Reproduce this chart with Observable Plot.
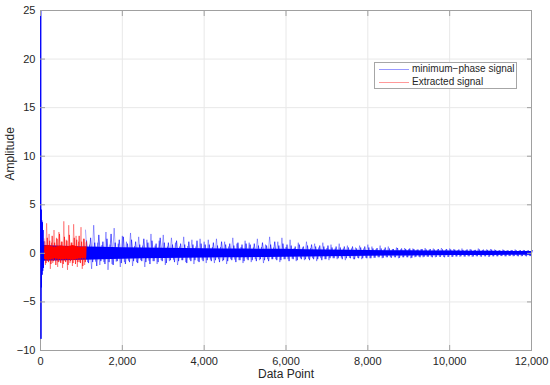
<!DOCTYPE html>
<html><head><meta charset="utf-8">
<script src="https://cdn.jsdelivr.net/npm/d3@7"></script>
<script src="https://cdn.jsdelivr.net/npm/@observablehq/plot@0.6"></script>
<style>
body{margin:0;background:#fff;font-family:"Liberation Sans",Arial,sans-serif;}
#wrap{position:relative;width:550px;height:385px;}
#legend{position:absolute;left:374px;top:62px;width:143px;height:27px;border:1px solid #a6a6a6;background:#fff;box-sizing:border-box;font-size:10px;color:#262626;}
#legend .ln{position:absolute;left:4px;width:30px;height:0;border-top:1px solid;}
#legend .tx{position:absolute;left:37px;line-height:12px;white-space:nowrap;}
</style></head>
<body>
<div id="wrap">
<div id="chart"></div>
<div id="legend">
  <div class="ln" style="top:6px;border-color:rgba(0,0,255,0.4)"></div><div class="tx" style="top:0px">minimum−phase signal</div>
  <div class="ln" style="top:19px;border-color:rgba(255,0,0,0.4)"></div><div class="tx" style="top:13px">Extracted signal</div>
</div>
</div>
<script>
// Axis ticks
const xTicks = [0, 2000, 4000, 6000, 8000, 10000, 12000];
const yTicks = [-10, -5, 0, 5, 10, 15, 20, 25];

// Blue (minimum-phase signal): initial impulse
const headX = [0, 6, 12, 18, 24, 30, 38, 46, 54, 62, 70, 80];
const headY = [0, 25, -8.8, 4.5, -3.5, 3.4, -2.2, 3.2, -1.8, 2.4, -1.5, 1.2];

// Blue dense core envelope
const coreX = [60, 1100, 1500, 2000, 2500, 3000, 3500, 4000, 4500, 5000, 5500, 6000, 6500, 7000, 7500, 8000, 8500, 9000, 9500, 10000, 10500, 11000, 11500, 12000];
const blueCoreHi = [0.8, 0.65, 0.62, 0.58, 0.55, 0.52, 0.5, 0.48, 0.46, 0.44, 0.43, 0.41, 0.38, 0.35, 0.33, 0.3, 0.28, 0.26, 0.24, 0.23, 0.22, 0.21, 0.2, 0.19];
const blueCoreLo = [-0.8, -0.7, -0.66, -0.6, -0.56, -0.53, -0.5, -0.48, -0.46, -0.44, -0.42, -0.4, -0.37, -0.35, -0.32, -0.3, -0.28, -0.26, -0.24, -0.23, -0.22, -0.21, -0.2, -0.19];

// Blue spike excursions, sampled from 1100 every 50 points
const blueStart = 1100, blueStep = 50;
const blueSpikes = [
  2.4,-0.9,0.9,-1.6,2.9,-0.85,1.1,-1.2,0.85,-0.9,2.2,-1.7,0.9,-1.1,2.6,-0.85,1.0,-1.4,1.8,-0.9,
  1.2,-0.75,2.1,-1.3,0.75,-0.9,1.7,-0.7,0.8,-1.4,1.4,-0.75,2.0,-0.8,0.8,-1.1,1.3,-0.7,1.9,-1.2,
  0.7,-0.8,1.6,-0.65,1.1,-1.2,0.7,-0.7,1.7,-0.9,0.75,-0.65,1.4,-1.1,0.7,-0.8,1.5,-0.65,1.2,-1.0,
  1.4,-0.65,0.65,-1.0,1.5,-0.6,0.65,-0.8,1.2,-1.1,0.7,-0.6,1.6,-0.65,1.0,-0.7,0.65,-1.0,1.3,-0.6,
  1.1,-0.9,0.6,-0.6,1.5,-0.7,0.65,-1.0,0.9,-0.6,1.7,-0.6,0.6,-0.6,1.2,-0.9,1.6,-0.6,0.65,-0.6,
  1.4,-0.55,0.55,-0.8,1.1,-0.5,0.6,-0.7,1.2,-0.55,0.55,-0.5,1.0,-0.8,0.6,-0.5,1.1,-0.6,0.55,-0.7,
  0.9,-0.5,0.5,-0.6,1.0,-0.45,0.5,-0.7,0.8,-0.45,0.5,-0.6,0.6,-0.45,0.8,-0.6,0.5,-0.45,0.9,-0.5,
  0.7,-0.45,0.45,-0.4,0.8,-0.5,0.45,-0.4,0.7,-0.4,0.45,-0.4,0.6,-0.5,0.4,-0.4,0.55,-0.4,0.45,-0.5,
  0.5,-0.4,0.38,-0.35,0.45,-0.4,0.55,-0.35,0.38,-0.35,0.5,-0.4,0.4,-0.35,0.55,-0.35,0.38,-0.35,0.5,-0.35,
  0.45,-0.32,0.34,-0.35,0.5,-0.32,0.35,-0.3,0.45,-0.35,0.34,-0.3,0.5,-0.32,0.35,-0.3,0.4,-0.35,0.45,-0.3,
  0.4,-0.3,0.3,-0.28,0.4,-0.3,0.3,-0.28,0.35,-0.3,0.4,-0.28,0.3,-0.3,0.35,-0.28,0.3,-0.28,0.3
];

// Blue finer excursions between the spikes, sampled from 1125 every 50 points
const blueFineStart = 1125, blueFineStep = 50;
const blueFine = [
  1.3,-1.0,1.6,-0.9,1.1,-1.3,1.9,-0.8,1.2,-1.1,1.5,-0.9,2.0,-1.2,1.1,-0.8,1.4,-1.0,1.7,-1.1,
  1.0,-0.9,1.4,-0.8,1.2,-1.0,0.9,-0.8,1.5,-0.9,1.1,-1.1,1.3,-0.8,1.0,-0.9,1.6,-0.8,1.1,-1.0,
  1.1,-0.7,0.9,-0.9,1.3,-0.8,1.0,-0.7,0.9,-1.0,1.2,-0.8,0.9,-0.7,1.3,-0.9,1.0,-0.8,0.9,-0.7,
  0.9,-0.8,1.1,-0.7,0.8,-0.9,1.2,-0.7,0.9,-0.8,1.0,-0.7,0.8,-0.9,1.1,-0.7,0.9,-0.8,1.0,-0.7,
  0.9,-0.7,1.0,-0.8,0.8,-0.6,1.1,-0.7,0.8,-0.8,0.9,-0.6,1.2,-0.7,0.8,-0.7,1.0,-0.6,0.9,-0.8,
  0.8,-0.6,0.7,-0.7,0.9,-0.6,0.7,-0.6,0.8,-0.7,0.9,-0.6,0.7,-0.6,0.8,-0.7,0.7,-0.6,0.8,-0.5,
  0.6,-0.5,0.7,-0.5,0.6,-0.6,0.7,-0.5,0.6,-0.5,0.7,-0.6,0.5,-0.5,0.6,-0.5,0.7,-0.5,0.6,-0.5,
  0.5,-0.45,0.55,-0.4,0.5,-0.45,0.6,-0.4,0.5,-0.45,0.45,-0.4,0.55,-0.45,0.5,-0.4,0.45,-0.4,0.5,-0.45,
  0.45,-0.35,0.4,-0.4,0.45,-0.35,0.4,-0.35,0.45,-0.4,0.4,-0.35,0.45,-0.35,0.4,-0.4,0.45,-0.35,0.4,-0.35,
  0.38,-0.32,0.4,-0.3,0.36,-0.33,0.4,-0.3,0.38,-0.32,0.36,-0.3,0.4,-0.33,0.38,-0.3,0.36,-0.32,0.38,-0.3,
  0.34,-0.3,0.32,-0.28,0.34,-0.3,0.32,-0.28,0.34,-0.28,0.32,-0.3,0.34,-0.28,0.32,-0.3,0.3,-0.28,0.3
];

// Red (extracted signal): dense core envelope
const redCoreX = [80, 200, 350, 500, 650, 800, 950, 1130];
const redCoreHi = [0.7, 0.8, 0.6, 0.75, 0.65, 0.8, 0.6, 0.65];
const redCoreLo = [-0.6, -0.7, -0.55, -0.65, -0.6, -0.7, -0.55, -0.5];

// Red spike excursions, sampled from 90 every 30 points
const redStart = 90, redStep = 30;
const redSpikes = [1.5,-1.2,3.1,-0.8,2.0,-1.6,1.1,-1.0,2.4,-0.7,1.6,-1.4,2.2,-0.9,1.2,-1.5,3.3,-0.8,
  1.4,-1.7,2.9,-1.0,1.1,-1.3,3.0,-0.7,1.8,-1.4,1.2,-0.9,2.7,-1.6,1.5,-1.2,1.1];
// Red finer excursions, sampled from 105 every 30 points
const redFineStart = 105, redFineStep = 30;
const redFine = [1.2,-1.0,1.6,-0.9,1.3,-1.1,1.8,-0.8,1.1,-1.2,1.5,-0.9,2.0,-1.0,1.2,-1.1,1.7,-0.9,
  1.3,-1.2,1.9,-0.8,1.1,-1.0,1.6,-1.1,1.4,-0.9,1.8,-1.0,1.2,-1.3,1.5,-0.9,1.2];

const head = headX.map((x, i) => ({x, y: headY[i]}));
const blueCore = coreX.map((x, i) => ({x, hi: blueCoreHi[i], lo: blueCoreLo[i]}));
const blueLine = blueSpikes.map((y, i) => ({x: blueStart + i * blueStep, y}));
const blueFineLine = blueFine.map((y, i) => ({x: blueFineStart + i * blueFineStep, y}));
const redCore = redCoreX.map((x, i) => ({x, hi: redCoreHi[i], lo: redCoreLo[i]}));
const redLine = redSpikes.map((y, i) => ({x: redStart + i * redStep, y}));
const redFineLine = redFine.map((y, i) => ({x: redFineStart + i * redFineStep, y}));

const BLUE = "#0000ff", RED = "#ff0000", GRID = "#e8e8e8", AX = "#a0a0a0";

const chart = Plot.plot({
  width: 550, height: 385,
  marginLeft: 40, marginRight: 19, marginTop: 10, marginBottom: 35,
  style: {fontFamily: "'Liberation Sans', Arial, sans-serif", fontSize: "11px", color: "#262626", background: "#fff"},
  x: {domain: [0, 12000], ticks: xTicks},
  y: {domain: [-10, 25], ticks: yTicks},
  marks: [
    Plot.gridX(xTicks, {stroke: GRID, strokeOpacity: 1}),
    Plot.gridY(yTicks, {stroke: GRID, strokeOpacity: 1}),
    Plot.line(blueLine, {x: "x", y: "y", stroke: BLUE, strokeWidth: 0.6, strokeOpacity: 0.6}),
    Plot.line(blueFineLine, {x: "x", y: "y", stroke: BLUE, strokeWidth: 0.7, strokeOpacity: 0.85}),
    Plot.areaY(blueCore, {x: "x", y1: "lo", y2: "hi", fill: BLUE}),
    Plot.line(redLine, {x: "x", y: "y", stroke: RED, strokeWidth: 0.6, strokeOpacity: 0.6}),
    Plot.line(redFineLine, {x: "x", y: "y", stroke: RED, strokeWidth: 0.7, strokeOpacity: 0.85}),
    Plot.areaY(redCore, {x: "x", y1: "lo", y2: "hi", fill: RED}),
    Plot.frame({stroke: AX}),
    Plot.line(head, {x: "x", y: "y", stroke: BLUE, strokeWidth: 1}),
    Plot.axisX(xTicks, {anchor: "bottom", tickSize: -5, tickPadding: 12, stroke: AX, label: null}),
    Plot.axisX(xTicks, {anchor: "top", tickSize: -5, stroke: AX, fill: "none", label: null}),
    Plot.axisY(yTicks, {anchor: "left", tickSize: -5, tickPadding: 10, stroke: AX, label: null}),
    Plot.axisY(yTicks, {anchor: "right", tickSize: -5, stroke: AX, fill: "none", label: null}),
    Plot.text(["Data Point"], {frameAnchor: "bottom", dy: 27, fontSize: 12, fill: "#262626"}),
    Plot.text(["Amplitude"], {frameAnchor: "left", dx: -30, rotate: -90, fontSize: 12, fill: "#262626"})
  ]
});
document.getElementById("chart").appendChild(chart);
</script>
</body></html>
